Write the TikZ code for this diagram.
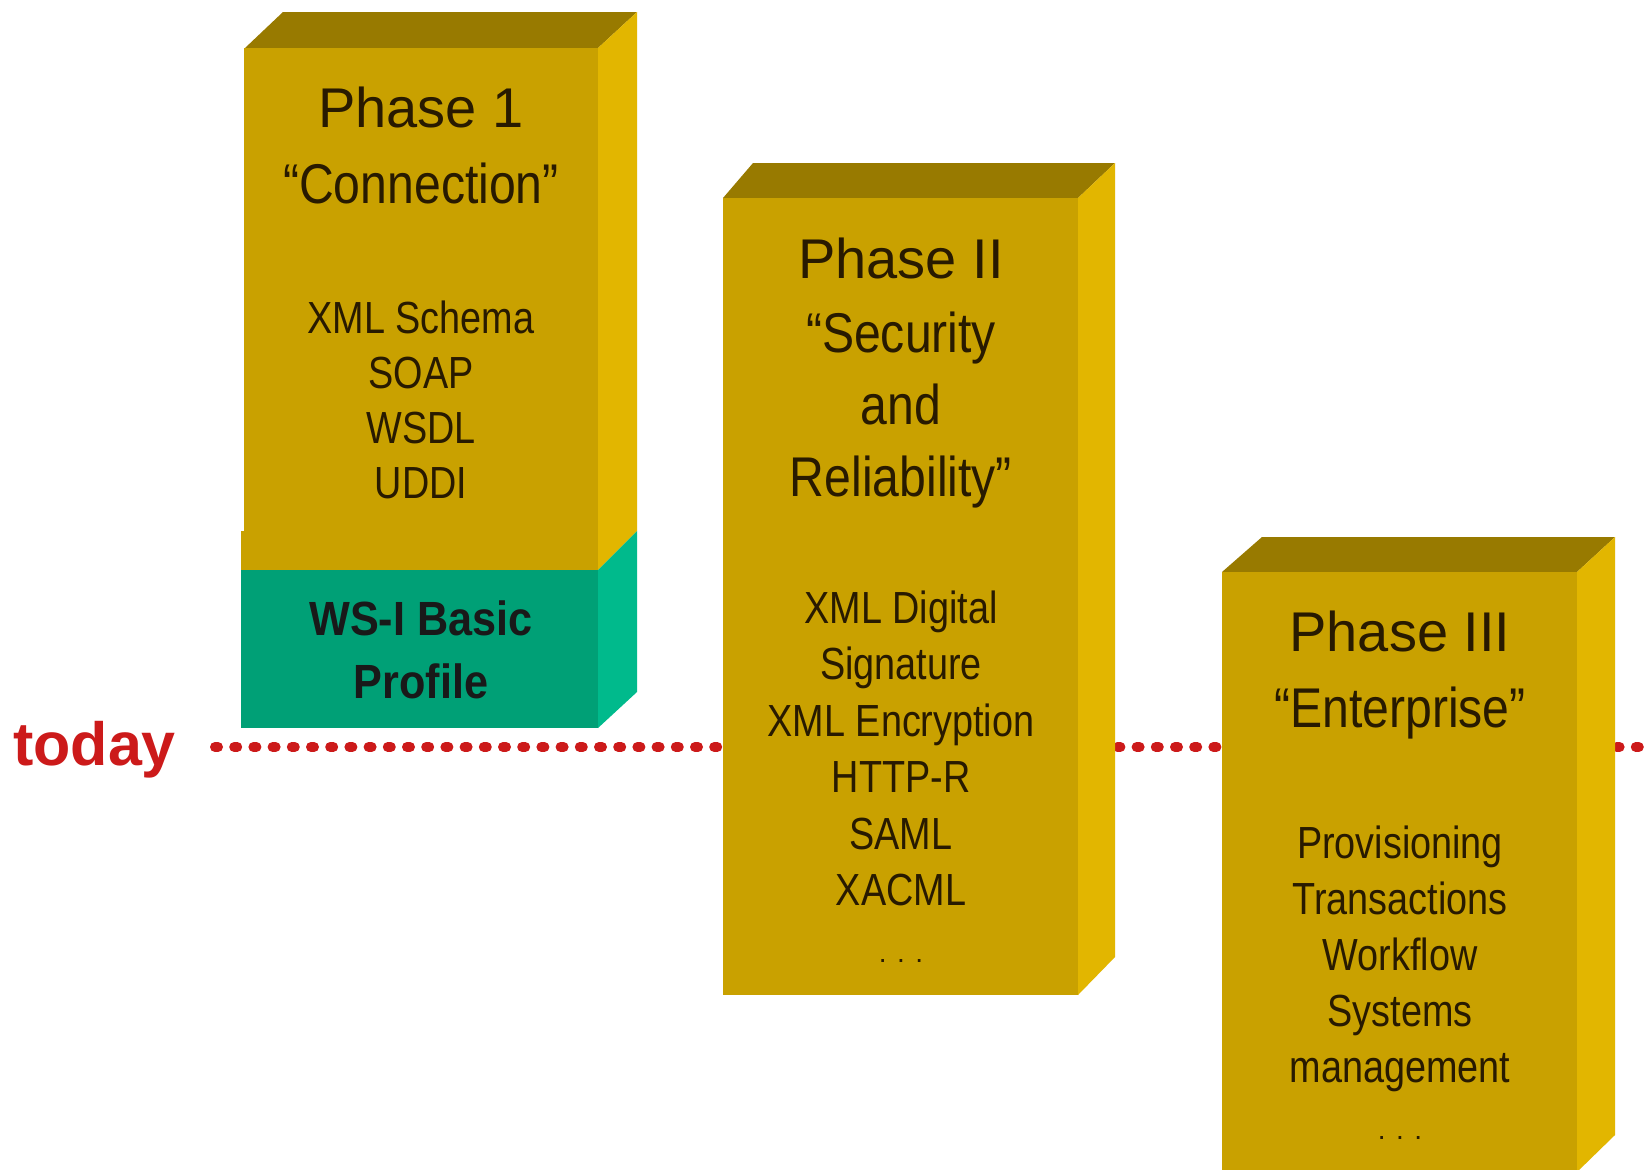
\documentclass[tikz,border=0pt]{standalone}
\usepackage{fontspec}
\setmainfont{Liberation Sans}
\newfontfamily\bodyf[FakeStretch=0.84]{Liberation Sans}
\newfontfamily\quotef[FakeStretch=0.86]{Liberation Sans}
\newfontfamily\wsf[FakeStretch=0.9]{Liberation Sans Bold}
\newfontfamily\todayf{Liberation Sans Bold}
\definecolor{yfront}{RGB}{201,161,0}
\definecolor{ytop}{RGB}{152,122,0}
\definecolor{yside}{RGB}{226,182,0}
\definecolor{gfront}{RGB}{0,160,118}
\definecolor{gside}{RGB}{0,186,140}
\definecolor{todayred}{RGB}{204,26,26}
\definecolor{ink}{RGB}{40,26,0}
\tikzset{
  titletext/.style={anchor=base, inner sep=0pt, text=ink, font=\fontsize{56}{60}\selectfont},
  quotetext/.style={anchor=base, inner sep=0pt, text=ink, font=\quotef\fontsize{56}{60}\selectfont},
  bodytext/.style={anchor=base, inner sep=0pt, text=ink, font=\bodyf\fontsize{45}{50}\selectfont},
  dotstext/.style={anchor=base, inner sep=0pt, text=ink, font=\fontsize{28}{30}\selectfont},
  wstext/.style={anchor=base, inner sep=0pt, text=black!90, font=\wsf\fontsize{48}{52}\selectfont},
  todaytext/.style={anchor=base west, inner sep=0pt, text=todayred, font=\todayf\fontsize{61}{64}\selectfont},
  dotline/.style={draw=todayred, line width=10pt, line cap=round, dash pattern=on 3pt off 16.2pt},
}
\begin{document}
\begin{tikzpicture}[x=1pt,y=-1pt]
\useasboundingbox (0,0) rectangle (1650,1170);
\fill[white] (0,0) rectangle (1650,1170);

% today line
\coordinate (lineL) at (215,747);
\coordinate (lineR) at (1660,747);
\draw[dotline] (lineL) -- (lineR);
\node[todaytext] (today) at (13,765) {today};

% ---------- Box 1 ----------
\fill[ytop] (245,48) -- (598,48) -- (637,12) -- (283,12) -- cycle;
\fill[yfront] (244,48) rectangle (598,570);
\fill[yfront] (241,531) rectangle (598,570);
\fill[yside] (598,48) -- (637,12) -- (637,531) -- (598,570) -- cycle;
\fill[gfront] (241,570) rectangle (598,728);
\fill[gside] (598,570) -- (637,531) -- (637,692) -- (598,728) -- cycle;

\node[titletext] (p1t) at (421,127) {Phase 1};
\node[quotetext] (p1q) at (421,203) {“Connection”};
\foreach \t [count=\i] in {XML Schema, SOAP, WSDL, UDDI}
  \node[bodytext] (p1b\i) at (421,{333+55*(\i-1)}) {\t};
\node[wstext] (ws1) at (421,635) {WS-I Basic};
\node[wstext] (ws2) at (421,698) {Profile};

% ---------- Box 2 ----------
\fill[ytop] (723,198) -- (1078,198) -- (1115,163) -- (753,163) -- cycle;
\fill[yfront] (723,198) rectangle (1078,995);
\fill[yside] (1078,198) -- (1115,163) -- (1115,957) -- (1078,995) -- cycle;

\node[titletext] (p2t) at (901,278) {Phase II};
\node[quotetext] (p2q1) at (901,352) {“Security};
\node[quotetext] (p2q2) at (901,424) {and};
\node[quotetext] (p2q3) at (901,496) {Reliability”};
\foreach \t [count=\i] in {XML Digital, Signature, XML Encryption, HTTP-R, SAML, XACML}
  \node[bodytext] (p2b\i) at (901,{623+56.5*(\i-1)}) {\t};
\node[dotstext] (p2d) at (901,962) {. . .};

% ---------- Box 3 ----------
\fill[ytop] (1222,572) -- (1577,572) -- (1615,537) -- (1262,537) -- cycle;
\fill[yfront] (1222,572) rectangle (1577,1170);
\fill[yside] (1577,572) -- (1615,537) -- (1615,1135) -- (1577,1172) -- cycle;

\node[titletext] (p3t) at (1400,651) {Phase III};
\node[quotetext] (p3q) at (1400,727) {“Enterprise”};
\foreach \t [count=\i] in {Provisioning, Transactions, Workflow, Systems, management}
  \node[bodytext] (p3b\i) at (1400,{858+56*(\i-1)}) {\t};
\node[dotstext] (p3d) at (1400,1139) {. . .};
\end{tikzpicture}
\end{document}
